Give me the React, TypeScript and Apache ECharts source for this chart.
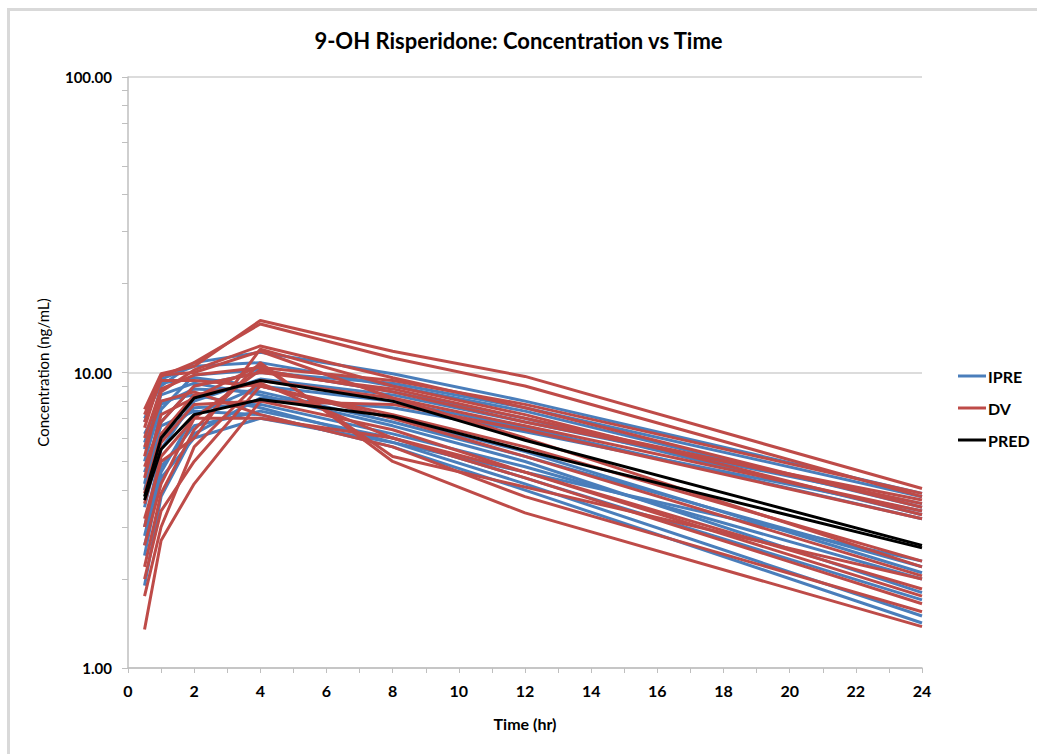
import React, { useEffect, useRef } from "react";
import * as echarts from "echarts";

const times = [0.5, 1, 2, 4, 8, 12, 24];
const xTicks = [0, 2, 4, 6, 8, 10, 12, 14, 16, 18, 20, 22, 24];
const yTicks = [1, 10, 100];

const ipre1 = [5.5, 9.0, 10.8, 11.7, 9.9, 8.0, 3.9];
const ipre2 = [6.8, 9.5, 10.5, 10.8, 9.0, 7.4, 3.5];
const ipre3 = [4.2, 7.5, 9.8, 10.2, 8.6, 7.0, 3.3];
const ipre4 = [3.0, 5.5, 8.0, 9.5, 8.4, 6.8, 3.6];
const ipre5 = [2.4, 4.6, 7.2, 9.0, 8.0, 6.5, 3.2];
const ipre6 = [1.9, 3.8, 6.2, 8.2, 7.6, 6.3, 3.4];
const ipre7 = [5.0, 7.8, 8.8, 8.6, 6.8, 5.2, 2.2];
const ipre8 = [3.5, 6.0, 7.6, 7.8, 6.2, 4.8, 2.0];
const ipre9 = [6.2, 8.0, 8.4, 7.6, 5.8, 4.2, 1.5];
const ipre10 = [4.6, 6.6, 7.4, 7.2, 5.6, 4.0, 1.42];
const ipre11 = [2.8, 4.8, 6.6, 7.4, 6.0, 4.4, 1.7];
const ipre12 = [7.0, 9.2, 9.6, 9.0, 7.0, 5.4, 2.1];
const ipre13 = [5.8, 8.4, 9.2, 8.4, 6.6, 5.0, 1.8];
const ipre14 = [4.0, 6.8, 9.0, 10.0, 9.2, 7.6, 3.8];
const ipre15 = [2.6, 4.4, 6.0, 7.0, 5.8, 4.6, 2.3];

const dv1 = [7.5, 9.9, 10.5, 15.0, 11.8, 9.7, 4.05];
const dv2 = [6.5, 9.7, 10.8, 14.6, 11.2, 9.0, 3.8];
const dv3 = [5.2, 8.6, 10.2, 12.3, 9.6, 7.6, 3.5];
const dv4 = [3.2, 5.0, 6.0, 12.0, 9.0, 7.2, 3.3];
const dv5 = [2.6, 4.2, 7.0, 10.2, 8.6, 6.8, 3.7];
const dv6 = [1.75, 3.0, 5.6, 9.4, 8.2, 6.6, 3.4];
const dv7 = [1.35, 2.7, 4.2, 8.0, 7.8, 6.4, 3.2];
const dv8 = [6.8, 9.4, 9.4, 9.0, 7.2, 5.6, 2.3];
const dv9 = [4.4, 7.2, 8.2, 10.6, 5.2, 4.1, 2.0];
const dv10 = [3.6, 5.8, 7.8, 8.0, 6.4, 4.6, 1.85];
const dv11 = [5.6, 8.0, 8.6, 7.2, 5.6, 3.8, 1.55];
const dv12 = [2.2, 3.9, 6.4, 10.8, 5.0, 3.35, 1.38];
const dv13 = [3.0, 5.2, 7.0, 7.0, 6.0, 4.4, 1.65];
const dv14 = [7.2, 9.8, 10.0, 11.8, 8.2, 6.0, 2.2];
const dv15 = [4.8, 6.8, 9.0, 10.0, 8.8, 7.0, 3.6];
const dv16 = [2.0, 3.4, 5.0, 9.0, 7.0, 5.2, 2.05];
const dv17 = [6.0, 8.8, 9.8, 10.4, 9.4, 7.8, 3.9];
const dv18 = [3.9, 6.2, 8.4, 9.2, 6.0, 4.6, 1.75];

const pred1 = [3.8, 6.0, 8.2, 9.4, 8.0, 5.9, 2.6];
const pred2 = [3.7, 5.5, 7.2, 8.1, 7.1, 5.45, 2.55];

const ipreList = [ipre1, ipre2, ipre3, ipre4, ipre5, ipre6, ipre7, ipre8, ipre9, ipre10, ipre11, ipre12, ipre13, ipre14, ipre15];
const dvList = [dv1, dv2, dv3, dv4, dv5, dv6, dv7, dv8, dv9, dv10, dv11, dv12, dv13, dv14, dv15, dv16, dv17, dv18];
const predList = [pred1, pred2];

const BLUE = "#4a7ebb";
const RED = "#be4b48";
const BLACK = "#000000";
const FONT = "Lato, 'Open Sans', sans-serif";

function toPoints(arr: number[]) {
  return times.map((t, i) => [t, arr[i]]);
}

export default function App() {
  const ref = useRef<HTMLDivElement>(null);
  useEffect(() => {
    if (!ref.current) return;
    const chart = echarts.init(ref.current, null, { renderer: "svg" });
    const mk = (name: string, color: string, arr: number[], width: number, z: number) => ({
      name,
      type: "line",
      data: toPoints(arr),
      showSymbol: false,
      symbol: "none",
      color,
      lineStyle: { color, width },
      z,
      silent: true,
    });
    const series: any[] = [
      ...ipreList.map((a) => mk("IPRE", BLUE, a, 3, 2)),
      ...dvList.map((a) => mk("DV", RED, a, 3, 3)),
      ...predList.map((a) => mk("PRED", BLACK, a, 3, 4)),
    ];
    chart.setOption({
      animation: false,
      backgroundColor: "#ffffff",
      textStyle: { fontFamily: FONT },
      title: {
        text: "9-OH Risperidone: Concentration vs Time",
        left: "center",
        top: 24,
        textStyle: { fontFamily: FONT, fontSize: 22, fontWeight: "bold", color: "#000" },
      },
      legend: {
        orient: "vertical",
        left: 953,
        top: 363,
        itemGap: 16,
        itemWidth: 28,
        itemHeight: 3,
        icon: "rect",
        data: [
          { name: "IPRE", itemStyle: { color: BLUE } },
          { name: "DV", itemStyle: { color: RED } },
          { name: "PRED", itemStyle: { color: BLACK } },
        ],
        textStyle: { fontFamily: FONT, fontSize: 16, fontWeight: "bold", color: "#000", padding: [0, 0, 0, -3] },
      },
      grid: { left: 128, top: 77, width: 794, height: 591, containLabel: false },
      xAxis: {
        type: "value",
        min: xTicks[0],
        max: xTicks[xTicks.length - 1],
        interval: 2,
        name: "Time (hr)",
        nameLocation: "middle",
        nameGap: 47,
        nameTextStyle: { fontFamily: FONT, fontSize: 16, fontWeight: "bold", color: "#000" },
        axisLine: { show: true, lineStyle: { color: "#bfbfbf", width: 1.5 } },
        axisTick: { show: true, length: 5, lineStyle: { color: "#bfbfbf" } },
        minorTick: { show: true, splitNumber: 2, length: 5, lineStyle: { color: "#bfbfbf" } },
        splitLine: { show: false },
        axisLabel: { fontFamily: FONT, fontSize: 16, fontWeight: "bold", color: "#000", margin: 14 },
      },
      yAxis: {
        type: "log",
        logBase: 10,
        min: yTicks[0],
        max: yTicks[yTicks.length - 1],
        name: "Concentration (ng/mL)",
        nameLocation: "middle",
        nameGap: 78,
        nameTextStyle: { fontFamily: FONT, fontSize: 15, color: "#000" },
        axisLine: { show: true, lineStyle: { color: "#bfbfbf", width: 1.5 } },
        axisTick: { show: true, length: 6, lineStyle: { color: "#bfbfbf" } },
        minorTick: { show: true, splitNumber: 9, length: 6, lineStyle: { color: "#bfbfbf" } },
        splitLine: { show: true, lineStyle: { color: "#d0d0d0", width: 1.5 } },
        axisLabel: {
          fontFamily: FONT,
          fontSize: 15,
          fontWeight: "bold",
          color: "#000",
          margin: 16,
          formatter: (v: number) => v.toFixed(2),
        },
      },
      graphic: [
        { type: "line", shape: { x1: 8.5, y1: 9.5, x2: 1037, y2: 9.5 }, style: { stroke: "#d9d9d9", lineWidth: 3 } },
        { type: "line", shape: { x1: 8.5, y1: 8, x2: 8.5, y2: 754 }, style: { stroke: "#d9d9d9", lineWidth: 3 } },
      ],
      series,
    });
    return () => chart.dispose();
  }, []);
  return (
    <div style={{ position: "fixed", left: 0, top: 0, width: 1037, height: 754, background: "#fff" }}>
      <div ref={ref} style={{ width: 1037, height: 754 }} />
    </div>
  );
}
